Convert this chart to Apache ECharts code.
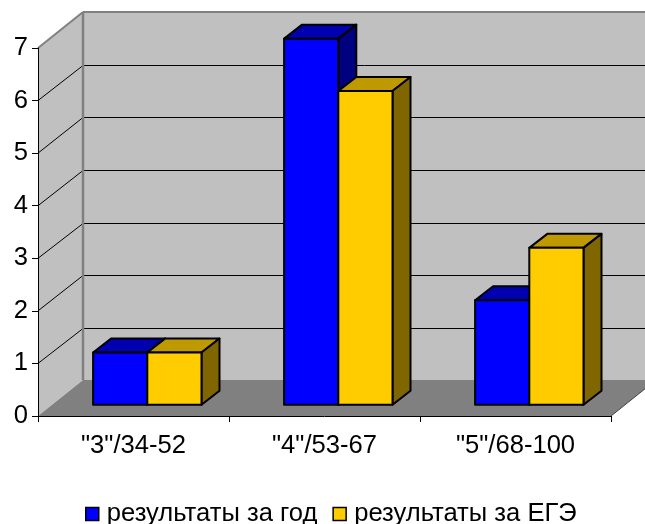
<!DOCTYPE html>
<html>
<head>
<meta charset="utf-8">
<style>html,body{margin:0;padding:0;background:#fff}#c{width:645px;height:524px}</style>
<script src="https://cdn.jsdelivr.net/npm/echarts@6/dist/echarts.min.js"></script>
</head>
<body>
<div id="c"></div>
<script>
const categories = ['"3"/34-52', '"4"/53-67', '"5"/68-100'];
const seriesNames = ['результаты за год', 'результаты за ЕГЭ'];
const yearValues = [1, 7, 2];
const examValues = [1, 6, 3];
const yTicks = [0, 1, 2, 3, 4, 5, 6, 7];

// 3D look, in pixels
const WALL_DX = 45, WALL_DY = -36;
const BAR_OFF_DX = 13.8, BAR_OFF_DY = -11.2, BAR_DX = 18, BAR_DY = -14;
const BAR_WIDTH_FRAC = 54.2 / 191, BAR_Y_SCALE = 0.995;
const FONT = '"Liberation Sans", Arial, sans-serif';

const chart = echarts.init(document.getElementById('c'), null, {renderer: 'canvas'});

function poly(points, fill, stroke, lineWidth) {
  return {type: 'polygon', shape: {points},
    style: {fill: fill, stroke: stroke || null, lineWidth: lineWidth || 0, lineJoin: 'round'}};
}
function line(p, q, stroke, lineWidth) {
  return {type: 'line', shape: {x1: p[0], y1: p[1], x2: q[0], y2: q[1]},
    style: {stroke, lineWidth: lineWidth || 1}};
}

function renderWalls(params, api) {
  const yOf = v => api.coord([0, v])[1];
  const xStart = api.coord([0, 0])[0] - api.size([1, 0])[0] / 2;
  const xEnd = xStart + api.size([1, 0])[0] * categories.length;
  const y0 = yOf(yTicks[0]), yTop = yOf(yTicks[yTicks.length - 1]);
  const bx = xStart + WALL_DX, bxEnd = xEnd + WALL_DX;
  const kids = [
    poly([[bx, yTop + WALL_DY], [bxEnd, yTop + WALL_DY], [bxEnd, y0 + WALL_DY], [bx, y0 + WALL_DY]], '#c0c0c0'),
    poly([[xStart, yTop], [bx, yTop + WALL_DY], [bx, y0 + WALL_DY], [xStart, y0]], '#c0c0c0'),
    poly([[xStart, y0], [bx, y0 + WALL_DY], [bxEnd, y0 + WALL_DY], [xEnd, y0]], '#808080')
  ];
  yTicks.slice(1, -1).forEach(v => {
    const y = yOf(v);
    const by = Math.round(y + WALL_DY + 0.3) + 0.5;
    kids.push(line([xStart, y], [bx, by], '#000', 1));
    kids.push(line([bx, by], [bxEnd, by], '#000', 1));
  });
  kids.push(line([xStart, yTop], [bx, yTop + WALL_DY], '#808080', 2));
  kids.push(line([bx, yTop + WALL_DY], [bxEnd, yTop + WALL_DY], '#808080', 2));
  kids.push(line([bx, yTop + WALL_DY], [bx, y0 + WALL_DY], '#808080', 2.5));
  kids.push(line([xEnd, y0], [bxEnd, y0 + WALL_DY], '#404040', 1));
  return {type: 'group', children: kids};
}

function barRenderer(seriesIndex, colors) {
  return function (params, api) {
    const cat = api.value(0), val = api.value(1);
    const c = api.coord([cat, 0]), t = api.coord([cat, val]);
    const w = api.size([1, 0])[0] * BAR_WIDTH_FRAC;
    const x0 = c[0] + BAR_OFF_DX + (seriesIndex - 1) * w;
    const x1 = x0 + w;
    const yb = c[1] + BAR_OFF_DY;
    const yt = yb + (t[1] - c[1]) * BAR_Y_SCALE;
    const bw = 2;
    return {type: 'group', children: [
      poly([[x0, yt], [x0 + BAR_DX, yt + BAR_DY], [x1 + BAR_DX, yt + BAR_DY], [x1, yt]], colors.top, '#000', bw),
      poly([[x1, yt], [x1 + BAR_DX, yt + BAR_DY], [x1 + BAR_DX, yb + BAR_DY], [x1, yb]], colors.side, '#000', bw),
      poly([[x0, yt], [x1, yt], [x1, yb], [x0, yb]], colors.front, '#000', bw)
    ]};
  };
}

const blue = {front: '#0000ff', top: '#0000b0', side: '#000080'};
const gold = {front: '#ffcc00', top: '#bf9900', side: '#806600'};

chart.setOption({
  animation: false,
  backgroundColor: '#fff',
  grid: {left: 38, width: 573, top: 48, height: 368, containLabel: false},
  legend: {
    show: true, left: 80, top: 496, itemWidth: 13, itemHeight: 13, itemGap: 15,
    icon: 'rect', data: seriesNames,
    itemStyle: {borderColor: '#000', borderWidth: 1.5},
    textStyle: {fontFamily: FONT, fontSize: 25.6, color: '#000', padding: [0, 0, 0, 3]}
  },
  xAxis: {
    type: 'category', data: categories,
    axisLine: {show: true, onZero: false, lineStyle: {color: '#000', width: 1}},
    axisTick: {show: true, length: 6, lineStyle: {color: '#000'}},
    axisLabel: {fontFamily: FONT, fontSize: 25.6, color: '#000', margin: 17},
    splitLine: {show: false}
  },
  yAxis: {
    type: 'value', min: 0, max: 7, interval: 1,
    axisLine: {show: true, lineStyle: {color: '#000', width: 1}},
    axisTick: {show: true, length: 6, lineStyle: {color: '#000'}},
    axisLabel: {fontFamily: FONT, fontSize: 25.6, color: '#000', margin: 10},
    splitLine: {show: false}
  },
  series: [
    {type: 'custom', name: '_walls', silent: true, z: 0, clip: false, data: [[0, 0]],
      renderItem: renderWalls},
    {type: 'custom', name: seriesNames[0], z: 1, clip: false, itemStyle: {color: blue.front},
      data: yearValues.map((v, i) => [i, v]), encode: {x: 0, y: 1},
      renderItem: barRenderer(0, blue)},
    {type: 'custom', name: seriesNames[1], z: 2, clip: false, itemStyle: {color: gold.front},
      data: examValues.map((v, i) => [i, v]), encode: {x: 0, y: 1},
      renderItem: barRenderer(1, gold)}
  ]
});
</script>
</body>
</html>
